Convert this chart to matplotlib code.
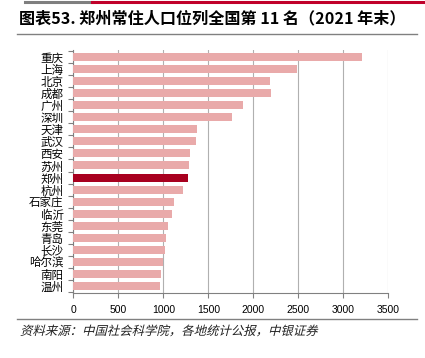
import matplotlib
matplotlib.use("Agg")
import matplotlib.pyplot as plt
from matplotlib.lines import Line2D
from matplotlib.textpath import TextPath
from matplotlib.patches import PathPatch
from matplotlib.font_manager import FontProperties
from matplotlib.transforms import Affine2D

plt.rcParams["font.family"] = ["Noto Sans CJK SC", "DejaVu Sans"]

# 2021 year-end resident population (10k persons)
cities = ["重庆", "上海", "北京", "成都", "广州", "深圳", "天津", "武汉", "西安", "苏州",
          "郑州", "杭州", "石家庄", "临沂", "东莞", "青岛", "长沙", "哈尔滨", "南阳", "温州"]
population = [3212, 2489, 2189, 2200, 1881, 1768, 1373, 1365, 1300, 1284,
              1274, 1220, 1120, 1102, 1053, 1026, 1024, 1001, 971, 958]
highlight = "郑州"
xticks = [0, 500, 1000, 1500, 2000, 2500, 3000, 3500]

title = "图表53. 郑州常住人口位列全国第 11 名（2021 年末）"
source = "资料来源：中国社会科学院，各地统计公报，中银证券"

PINK = "#e9aaaa"
DARK = "#a8001f"
RED = "#c0002a"
GREY = "#808080"

W, H = 425, 358
fig = plt.figure(figsize=(W / 100, H / 100), dpi=100)

# page decoration: top strip, rule under title, rule above source
fig.add_artist(Line2D([25 / W, 92 / W], [1 - 1.5 / H] * 2, color="#7f7f7f", lw=2.2))
fig.add_artist(Line2D([92 / W, 1], [1 - 1.5 / H] * 2, color=RED, lw=2.2))
fig.add_artist(Line2D([17 / W, 417 / W], [1 - 34 / H] * 2, color=GREY, lw=1.0))
fig.add_artist(Line2D([17 / W, 417 / W], [1 - 319 / H] * 2, color=GREY, lw=1.0))

fig.text(19 / W, 1 - 18 / H, title, fontsize=11.6, fontweight="bold", va="center", ha="left")

# source line drawn as a slanted text path (the CJK font has no italic face)
src_path = TextPath((0, 0), source, size=12.4, prop=FontProperties(family="Noto Sans CJK SC"))
fig.add_artist(PathPatch(src_path, transform=Affine2D().skew_deg(14, 0).translate(20, H - 335),
                         facecolor="#222222", edgecolor="none"))

ax = fig.add_axes([73.3 / W, 1 - 293 / H, 315 / W, 243 / H])
ypos = list(range(len(cities)))
colors = [DARK if c == highlight else PINK for c in cities]
ax.barh(ypos, population, height=0.66, color=colors, zorder=3)

ax.set_xlim(0, 3500)
ax.set_ylim(len(cities) - 0.45, -0.55)
ax.set_xticks(xticks)
ax.set_xticklabels([str(v) for v in xticks], family=["Liberation Sans", "DejaVu Sans"],
                   fontsize=7.5)
ax.set_yticks(ypos)
ax.set_yticklabels(cities, fontsize=8.3)
ax.set_yticks([i - 0.5 for i in range(len(cities) + 1)], minor=True)
ax.tick_params(axis="y", which="major", length=0, pad=7)
ax.tick_params(axis="y", which="minor", length=3.5, color=GREY, width=0.8)
ax.tick_params(axis="x", length=3.5, color=GREY, width=0.8, pad=5)
ax.grid(axis="x", color="#b0b0b0", lw=0.8, zorder=0)

for side in ("top", "right"):
    ax.spines[side].set_visible(False)
for side in ("left", "bottom"):
    ax.spines[side].set_color(GREY)
    ax.spines[side].set_linewidth(0.8)

fig.savefig("out.png", dpi=100)
